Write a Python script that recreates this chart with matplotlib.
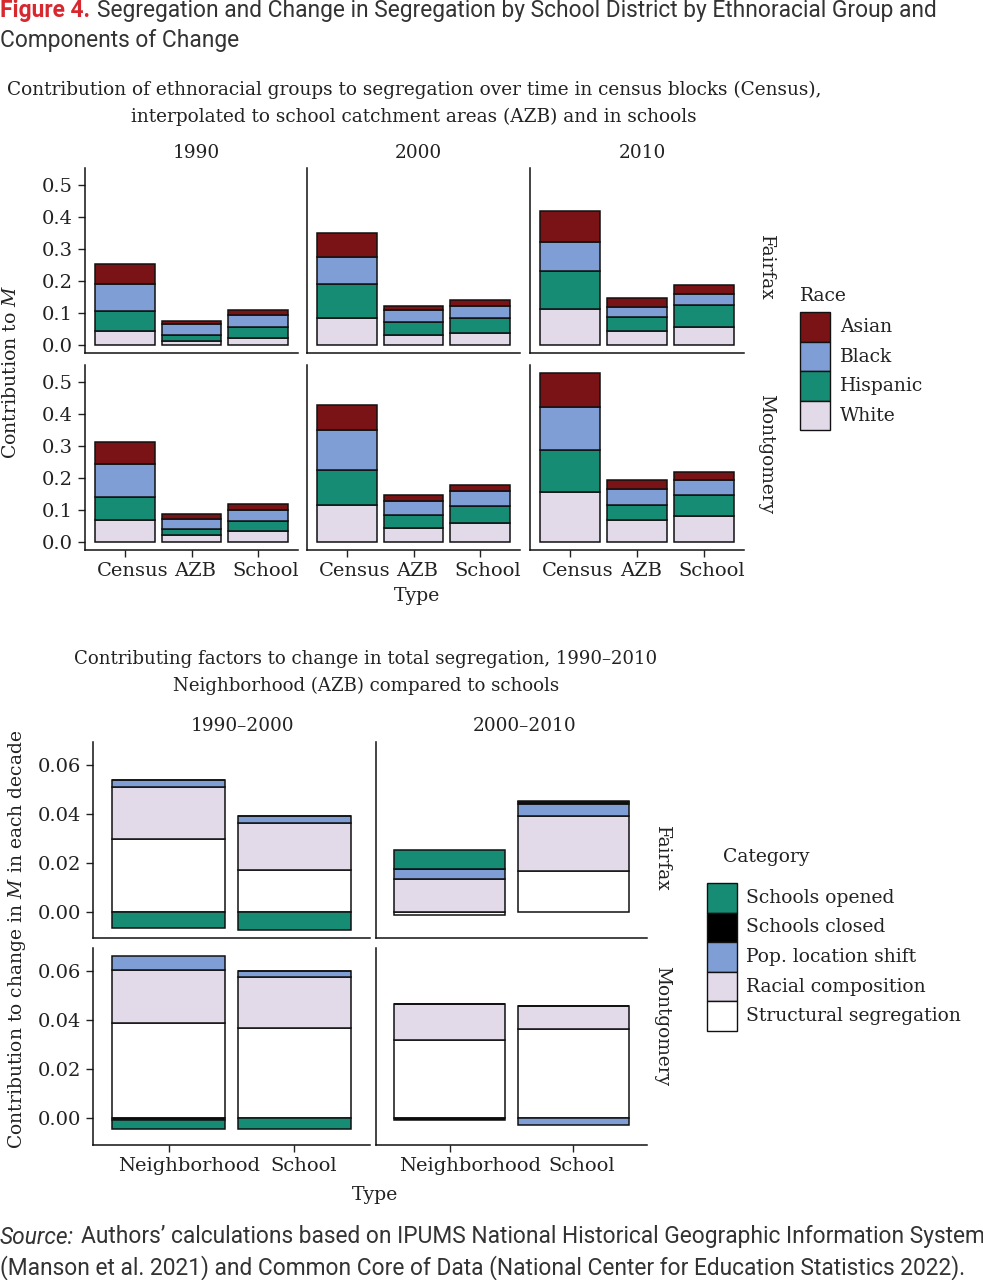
import matplotlib
matplotlib.use("Agg")
import matplotlib.pyplot as plt
import matplotlib.transforms as mtransforms
from matplotlib.patches import Rectangle

# ---- data: top chart (contribution to M by race) ----
types = ["Census", "AZB", "School"]
years = ["1990", "2000", "2010"]
districts = ["Fairfax", "Montgomery"]
races = ["White", "Hispanic", "Black", "Asian"]  # bottom -> top

# [year][type]
fairfax_white = [[0.041, 0.011, 0.022], [0.084, 0.031, 0.036], [0.111, 0.041, 0.055]]
fairfax_hispanic = [[0.064, 0.019, 0.032], [0.104, 0.040, 0.048], [0.119, 0.044, 0.069]]
fairfax_black = [[0.085, 0.033, 0.037], [0.087, 0.036, 0.038], [0.091, 0.032, 0.033]]
fairfax_asian = [[0.061, 0.012, 0.017], [0.074, 0.015, 0.018], [0.096, 0.030, 0.029]]

montgomery_white = [[0.066, 0.020, 0.032], [0.116, 0.043, 0.059], [0.156, 0.066, 0.080]]
montgomery_hispanic = [[0.072, 0.018, 0.032], [0.109, 0.041, 0.052], [0.129, 0.049, 0.065]]
montgomery_black = [[0.106, 0.033, 0.036], [0.124, 0.044, 0.047], [0.135, 0.051, 0.047]]
montgomery_asian = [[0.069, 0.014, 0.019], [0.078, 0.019, 0.018], [0.106, 0.027, 0.026]]

# ---- data: bottom chart (components of change) ----
comp_types = ["Neighborhood", "School"]
decades = ["1990\u20132000", "2000\u20132010"]
# stack order bottom -> top
categories = ["Structural segregation", "Racial composition",
              "Pop. location shift", "Schools closed", "Schools opened"]

# [decade][type]
fairfax_structural = [[0.0297, 0.0169], [-0.0013, 0.0167]]
fairfax_racial = [[0.0211, 0.0191], [0.0134, 0.0225]]
fairfax_popshift = [[0.0030, 0.0028], [0.0038, 0.0046]]
fairfax_closed = [[0.0, 0.0], [0.0003, 0.0008]]
fairfax_opened = [[-0.0066, -0.0074], [0.0076, 0.0007]]

montgomery_structural = [[0.0387, 0.0368], [0.0319, 0.0364]]
montgomery_racial = [[0.0214, 0.0205], [0.0147, 0.0092]]
montgomery_popshift = [[0.0057, 0.0027], [0.0, -0.0025]]
montgomery_closed = [[-0.0006, 0.0], [-0.0007, 0.0]]
montgomery_opened = [[-0.0035, -0.0042], [0.0, 0.0]]

race_colors = {"Asian": "#7a1315", "Black": "#7f9ed6",
               "Hispanic": "#168c74", "White": "#e2dae9"}
cat_colors = {"Schools opened": "#168c74", "Schools closed": "#000000",
              "Pop. location shift": "#7f9ed6", "Racial composition": "#e2dae9",
              "Structural segregation": "#ffffff"}

SERIF = "DejaVu Serif"
SANS = "Roboto"
plt.rcParams["mathtext.fontset"] = "dejavuserif"
W, H = 983, 1280
fig = plt.figure(figsize=(W / 100, H / 100), dpi=100)


def px_axes(x0, y0, x1, y1):
    return fig.add_axes([x0 / W, 1 - y1 / H, (x1 - x0) / W, (y1 - y0) / H])


def style_axes(ax, show_y, show_x, xshift):
    for s in ["top", "right"]:
        ax.spines[s].set_visible(False)
    for s in ["left", "bottom"]:
        ax.spines[s].set_linewidth(1.1)
        ax.spines[s].set_color("#111111")
    ax.tick_params(axis="both", direction="out", length=5, width=1,
                   color="#222222", labelsize=14, labelcolor="#222222")
    if not show_y:
        ax.tick_params(axis="y", length=0, labelleft=False)
    if not show_x:
        ax.tick_params(axis="x", length=0, labelbottom=False)
    for lab in ax.get_xticklabels() + ax.get_yticklabels():
        lab.set_family(SERIF)
    # labels sit slightly right of the ticks in the original
    for lab, dx in zip(ax.get_xticklabels(), xshift):
        lab.set_transform(lab.get_transform() +
                          mtransforms.ScaledTranslation(dx / 100, 0, fig.dpi_scale_trans))


def stack_bars(ax, x, series, colors, width=0.9):
    pos = [0.0] * len(x)
    neg = [0.0] * len(x)
    for vals, col in zip(series, colors):
        bottoms = []
        for i, v in enumerate(vals):
            if v >= 0:
                bottoms.append(pos[i])
                pos[i] += v
            else:
                bottoms.append(neg[i])
                neg[i] += v
        ax.bar(x, vals, bottom=bottoms, width=width, color=col,
               edgecolor="#111111", linewidth=1.1, zorder=2)


# ---------------- top chart ----------------
top_cols = [(85, 298), (307, 520), (530, 744)]
top_rows = [(168, 353), (365, 550)]
top_data = {
    "Fairfax": [fairfax_white, fairfax_hispanic, fairfax_black, fairfax_asian],
    "Montgomery": [montgomery_white, montgomery_hispanic, montgomery_black, montgomery_asian],
}
for r, dist in enumerate(districts):
    for c, yr in enumerate(years):
        ax = px_axes(top_cols[c][0], top_rows[r][0], top_cols[c][1], top_rows[r][1])
        series = [[top_data[dist][k][c][t] for t in range(3)] for k in range(4)]
        stack_bars(ax, [1, 2, 3], series, [race_colors[k] for k in races])
        ax.set_xlim(0.4, 3.6)
        ax.set_ylim(-0.0263, 0.5523)
        ax.set_yticks([0, 0.1, 0.2, 0.3, 0.4, 0.5])
        ax.set_yticklabels(["0.0", "0.1", "0.2", "0.3", "0.4", "0.5"])
        ax.set_xticks([1, 2, 3])
        ax.set_xticklabels(types)
        style_axes(ax, c == 0, r == 1, [8, 4, 8])

# ---------------- bottom chart ----------------
bot_cols = [(93, 370), (376, 647)]
bot_rows = [(742, 938), (948, 1145)]
bot_data = {
    "Fairfax": [fairfax_structural, fairfax_racial, fairfax_popshift,
                fairfax_closed, fairfax_opened],
    "Montgomery": [montgomery_structural, montgomery_racial, montgomery_popshift,
                   montgomery_closed, montgomery_opened],
}
for r, dist in enumerate(districts):
    for c, dec in enumerate(decades):
        ax = px_axes(bot_cols[c][0], bot_rows[r][0], bot_cols[c][1], bot_rows[r][1])
        series = [[bot_data[dist][k][c][t] for t in range(2)] for k in range(5)]
        stack_bars(ax, [1, 2], series, [cat_colors[k] for k in categories])
        ax.set_xlim(0.4, 2.6)
        ax.set_ylim(-0.0108, 0.0692)
        ax.set_yticks([0, 0.02, 0.04, 0.06])
        ax.set_yticklabels(["0.00", "0.02", "0.04", "0.06"])
        ax.set_xticks([1, 2])
        ax.set_xticklabels(comp_types)
        style_axes(ax, c == 0, r == 1, [20, 9])

# ---------------- text overlay ----------------
ov = fig.add_axes([0, 0, 1, 1], zorder=-1)
ov.set_xlim(0, W)
ov.set_ylim(H, 0)
ov.axis("off")

tc = "#222222"
hs = 16.4
ov.text(0, 10, "Figure 4.", family=SANS, fontsize=hs, weight="bold",
        color="#d7282f", va="center", ha="left")
ov.text(97, 10, "Segregation and Change in Segregation by School District by Ethnoracial Group and",
        family=SANS, fontsize=hs, color="#333333", va="center", ha="left")
ov.text(0, 41, "Components of Change", family=SANS, fontsize=hs,
        color="#333333", va="center", ha="left")

ts = 13.3
ov.text(414, 90, "Contribution of ethnoracial groups to segregation over time in census blocks (Census),",
        family=SERIF, fontsize=ts, color=tc, ha="center", va="center")
ov.text(414, 117, "interpolated to school catchment areas (AZB) and in schools",
        family=SERIF, fontsize=ts, color=tc, ha="center", va="center")
for c, yr in enumerate(years):
    ov.text((top_cols[c][0] + top_cols[c][1]) / 2 + 5, 153, yr, family=SERIF,
            fontsize=ts, color=tc, ha="center", va="center")
top_strip_y = [268, 454]
for r, dist in enumerate(districts):
    ov.text(766, top_strip_y[r], dist, family=SERIF,
            fontsize=ts, color=tc, ha="center", va="center", rotation=-90)
ov.text(11, 372, "Contribution to $M$", family=SERIF, fontsize=13.6, color=tc,
        ha="center", va="center", rotation=90)
ov.text(417, 596, "Type", family=SERIF, fontsize=13.6, color=tc, ha="center", va="center")

# race legend
ls = 13.5
ov.text(800, 296, "Race", family=SERIF, fontsize=ls, color=tc, ha="left", va="center")
for i, name in enumerate(["Asian", "Black", "Hispanic", "White"]):
    y0 = 312 + i * 29.6
    ov.add_patch(Rectangle((800, y0), 30, 29.6, facecolor=race_colors[name],
                           edgecolor="#111111", linewidth=1.0))
    ov.text(840, y0 + 15, name, family=SERIF, fontsize=ls, color=tc,
            ha="left", va="center")

ov.text(366, 659, "Contributing factors to change in total segregation, 1990\u20132010",
        family=SERIF, fontsize=13.1, color=tc, ha="center", va="center")
ov.text(366, 686, "Neighborhood (AZB) compared to schools",
        family=SERIF, fontsize=13.1, color=tc, ha="center", va="center")
bot_strip_x = [242, 525]
for c, dec in enumerate(decades):
    ov.text(bot_strip_x[c], 726, dec, family=SERIF,
            fontsize=ts, color=tc, ha="center", va="center")
bot_strip_y = [859, 1026]
for r, dist in enumerate(districts):
    ov.text(662, bot_strip_y[r], dist, family=SERIF,
            fontsize=ts, color=tc, ha="center", va="center", rotation=-90)
ov.text(17, 939, "Contribution to change in $M$ in each decade", family=SERIF,
        fontsize=13.5, color=tc, ha="center", va="center", rotation=90)
ov.text(375, 1195, "Type", family=SERIF, fontsize=13.6, color=tc, ha="center", va="center")

# category legend
ov.text(723, 857, "Category", family=SERIF, fontsize=ls, color=tc, ha="left", va="center")
for i, name in enumerate(["Schools opened", "Schools closed", "Pop. location shift",
                          "Racial composition", "Structural segregation"]):
    y0 = 883 + i * 29.5
    ov.add_patch(Rectangle((707, y0), 30, 29.5, facecolor=cat_colors[name],
                           edgecolor="#111111", linewidth=1.0))
    ov.text(746, y0 + 15, name, family=SERIF, fontsize=ls, color=tc,
            ha="left", va="center")

ov.text(0, 1237, "Source:", family=SANS, fontsize=hs, style="italic",
        color="#333333", ha="left", va="center")
ov.text(81, 1237, "Authors\u2019 calculations based on IPUMS National Historical Geographic Information System",
        family=SANS, fontsize=hs, color="#333333", ha="left", va="center")
ov.text(0, 1268, "(Manson et al. 2021) and Common Core of Data (National Center for Education Statistics 2022).",
        family=SANS, fontsize=hs, color="#333333", ha="left", va="center")

fig.savefig("out.png", dpi=100)
